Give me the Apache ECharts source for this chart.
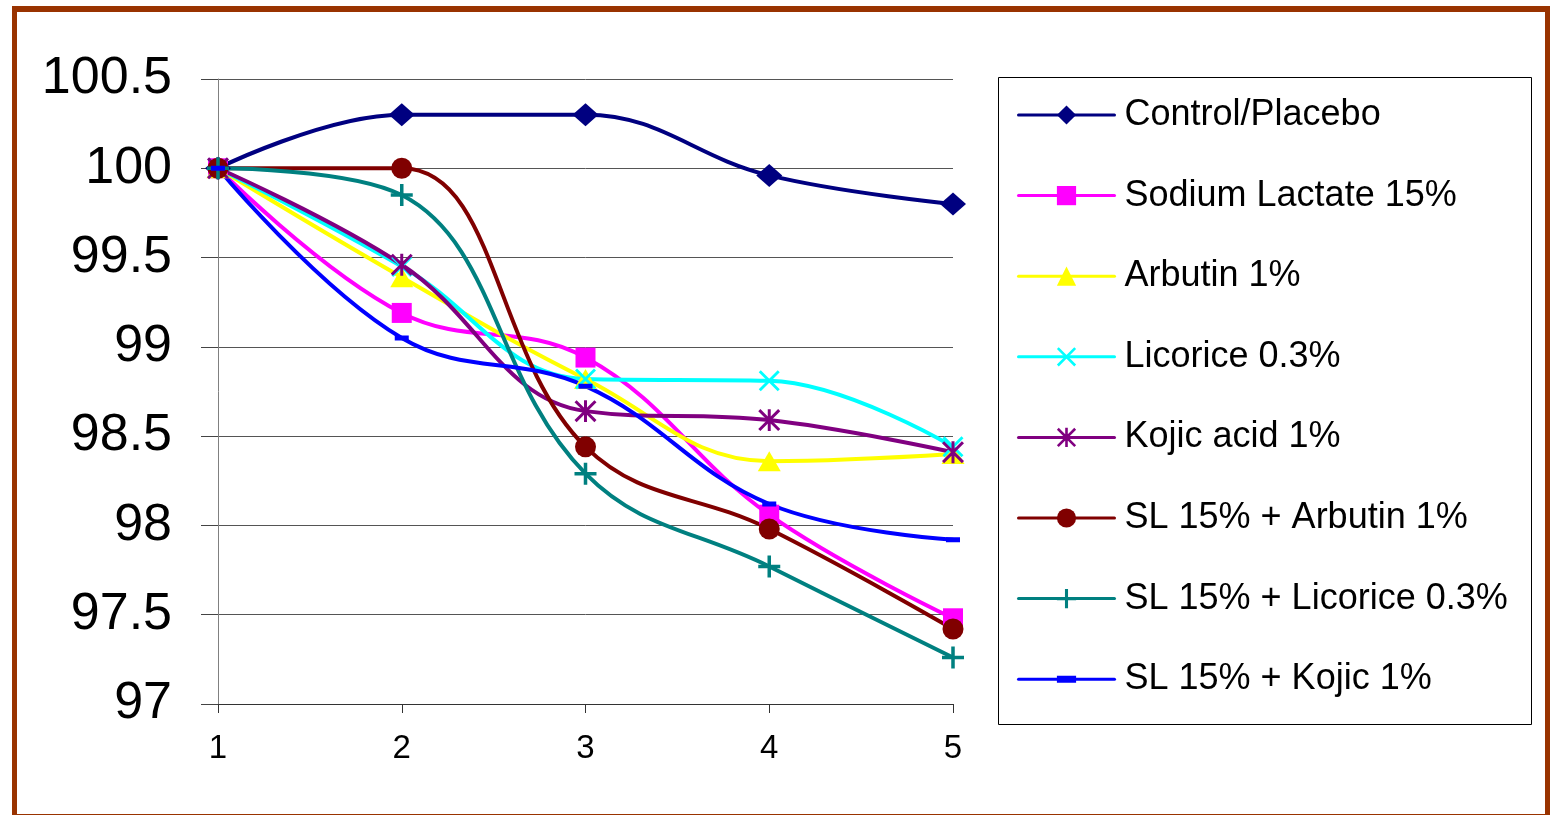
<!DOCTYPE html>
<html>
<head>
<meta charset="utf-8">
<script src="https://cdn.jsdelivr.net/npm/echarts@6/dist/echarts.min.js"></script>
<style>
html,body{margin:0;padding:0;background:#fff;overflow:hidden;}
#frame{position:absolute;left:12px;top:6px;width:1538px;height:813px;box-sizing:border-box;border:5px solid #993300;border-top-width:6px;}
#chart{position:absolute;left:0;top:0;width:1553px;height:815px;}
</style>
</head>
<body>
<div id="chart"></div>
<div id="frame"></div>
<script>
// ---- data ----
const categories = ['1', '2', '3', '4', '5'];
const seriesNames = ['Control/Placebo', 'Sodium Lactate 15%', 'Arbutin 1%', 'Licorice 0.3%', 'Kojic acid 1%', 'SL 15% + Arbutin 1%', 'SL 15% + Licorice 0.3%', 'SL 15% + Kojic 1%'];
const control     = [100, 100.30, 100.30, 99.96, 99.80];
const sodiumLact  = [100, 99.19, 98.94, 98.06, 97.48];
const arbutin     = [100, 99.39, 98.82, 98.36, 98.40];
const licorice    = [100, 99.45, 98.82, 98.81, 98.44];
const kojic       = [100, 99.46, 98.64, 98.59, 98.41];
const slArbutin   = [100, 100.00, 98.44, 97.98, 97.42];
const slLicorice  = [100, 99.85, 98.29, 97.77, 97.26];
const slKojic     = [100, 99.05, 98.78, 98.12, 97.92];
const yTicks = { min: 97, max: 100.5, interval: 0.5 };

// ---- styles ----
const colors = ['#000080', '#FF00FF', '#FFFF00', '#00FFFF', '#800080', '#800000', '#008080', '#0000FF'];
const xPath = 'path://M-8.94,-11.06 L11.06,8.94 L8.94,11.06 L-11.06,-8.94 Z M-8.94,11.06 L-11.06,8.94 L8.94,-11.06 L11.06,-8.94 Z';
const plusPath = 'path://M-1.6,-10 L1.6,-10 L1.6,10 L-1.6,10 Z M-10,-1.6 L10,-1.6 L10,1.6 L-10,1.6 Z';
const starPath = 'path://M-8.94,-11.06 L11.06,8.94 L8.94,11.06 L-11.06,-8.94 Z M-8.94,11.06 L-11.06,8.94 L8.94,-11.06 L11.06,-8.94 Z M-1.5,-11 L1.5,-11 L1.5,11 L-1.5,11 Z';
const dashPath = 'path://M0,0 L14,0 L14,5 L0,5 Z M0,-4.5 L0.01,-4.5 M0,9.5 L0.01,9.5';
const symbols = ['diamond', 'rect', 'triangle', xPath, starPath, 'circle', plusPath, dashPath];
const symbolSizes = [[26, 23], 20, [23, 20], 21, 22, 21, 22, 14];
const dataSets = [control, sodiumLact, arbutin, licorice, kojic, slArbutin, slLicorice, slKojic];

const chart = echarts.init(document.getElementById('chart'));
const FONT = '"Liberation Sans", Arial, sans-serif';

const series = dataSets.map((d, i) => ({
  name: seriesNames[i],
  type: 'line',
  data: d,
  smooth: 0.4,
  symbol: symbols[i],
  symbolSize: symbolSizes[i],
  showAllSymbol: true,
  lineStyle: { color: colors[i], width: 4, cap: 'round', join: 'round' },
  itemStyle: { color: colors[i], opacity: 1 },
  emphasis: { disabled: true },
  animation: false
}));

chart.setOption({
  backgroundColor: '#fff',
  animation: false,
  grid: { left: 218, right: 600, top: 79, bottom: 111, containLabel: false },
  xAxis: {
    type: 'category',
    data: categories,
    boundaryGap: false,
    axisLine: { lineStyle: { color: '#333', width: 1 } },
    axisTick: { show: true, length: 9, lineStyle: { color: '#333' } },
    axisLabel: { fontSize: 33, color: '#000', fontFamily: FONT, margin: 28 },
    splitLine: { show: false }
  },
  yAxis: {
    type: 'value',
    min: yTicks.min, max: yTicks.max, interval: yTicks.interval,
    axisLine: { show: true, lineStyle: { color: '#808080', width: 1 } },
    axisTick: { show: true, length: 17, lineStyle: { color: '#444' } },
    axisLabel: { fontSize: 52, color: '#000', fontFamily: FONT, margin: 46 },
    splitLine: { show: true, lineStyle: { color: '#555', width: 1 } }
  },
  legend: {
    orient: 'vertical',
    left: 1017,
    top: 97,
    padding: 0,
    itemWidth: 96,
    itemHeight: 24,
    itemGap: 44.6,
    selectedMode: false,
    lineStyle: { width: 3 },
    textStyle: { fontSize: 36, color: '#000', fontFamily: FONT, lineHeight: 36, padding: [0, 0, 0, 5] },
    data: seriesNames
  },
  graphic: [
    { type: 'rect', shape: { x: 998.5, y: 77.5, width: 533, height: 647 }, style: { fill: 'none', stroke: '#000', lineWidth: 1 }, z: 100, silent: true }
  ],
  series: series
});
</script>
</body>
</html>
